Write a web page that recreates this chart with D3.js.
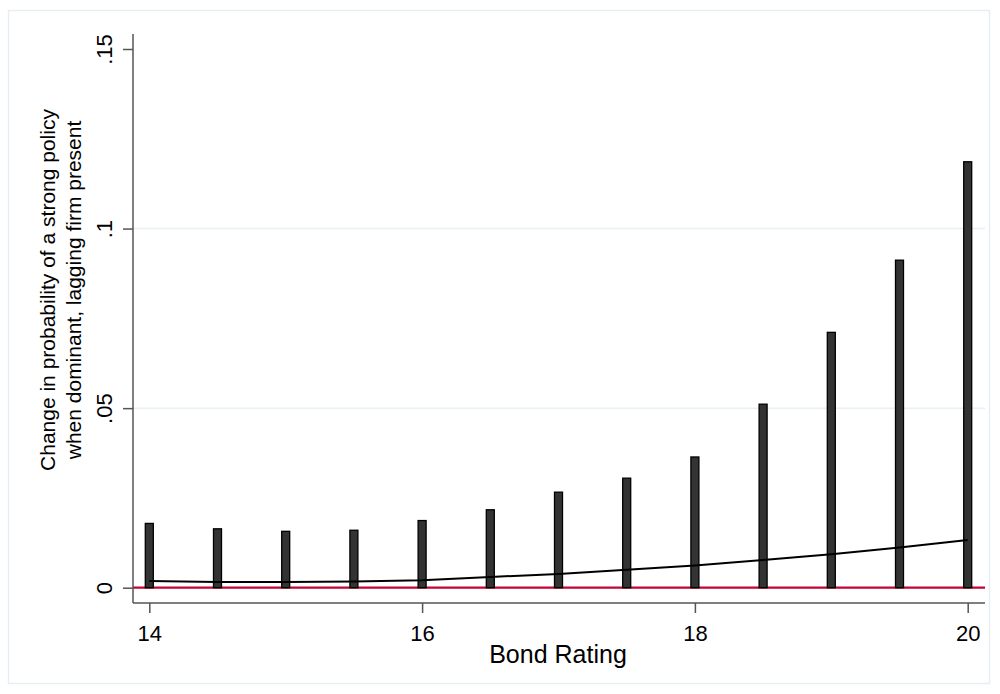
<!DOCTYPE html>
<html>
<head>
<meta charset="utf-8">
<script src="https://cdn.jsdelivr.net/npm/d3@7"></script>
<style>
  body { margin: 0; background: #fff; }
  text { font-family: "Liberation Sans", Arial, sans-serif; fill: #000; }
</style>
</head>
<body>
<script>
(() => {
    // Dados
    var rating = [14, 14.5, 15, 15.5, 16, 16.5, 17, 17.5, 18, 18.5, 19, 19.5, 20];
    var upper = [0.0179, 0.0164, 0.0157, 0.016, 0.0187, 0.0217, 0.0266, 0.0305, 0.0364, 0.0511, 0.0711, 0.0912, 0.1186];
    var effect = [0.0019, 0.0016, 0.0016, 0.0017, 0.0021, 0.003, 0.0038, 0.005, 0.0062, 0.0077, 0.0093, 0.0112, 0.0133];
    var xTicks = [14, 16, 18, 20];
    var yTicks = [0, 0.05, 0.1, 0.15];
    var yTickLabels = ["0", ".05", ".1", ".15"];
    var yTitle = ["Change in probability of a strong policy", "when dominant, lagging firm present"];
    var xTitle = "Bond Rating";

    var w = 1000,
        h = 694;

    var plot = { left: 133, right: 985, top: 34, bottom: 603 };

    var svg = d3.select("body").append("svg")
        .attr("width", w).attr("height", h);

    // moldura externa
    svg.append("rect")
        .attr("x", 8.5).attr("y", 10.5)
        .attr("width", 981).attr("height", 673)
        .attr("fill", "#fff").attr("stroke", "#e6eef1").attr("stroke-width", 1.5);

    var x = d3.scaleLinear().domain([14, 20]).range([149.3, 967.7]);
    var y = d3.scaleLinear().domain([0, 0.15]).range([587.7, 49]);

    // linhas de grade
    svg.append("g").selectAll("line").data([0.05, 0.1]).enter()
        .append("line")
        .attr("x1", plot.left).attr("x2", plot.right)
        .attr("y1", d => y(d)).attr("y2", d => y(d))
        .attr("stroke", "#e8f0f2").attr("stroke-width", 1.5);

    // linha de referencia em zero
    svg.append("line")
        .attr("x1", plot.left).attr("x2", plot.right)
        .attr("y1", y(0)).attr("y2", y(0))
        .attr("stroke", "#c10534").attr("stroke-width", 2.2);

    // barras
    svg.append("g").selectAll("rect").data(rating).enter()
        .append("rect")
        .attr("x", d => x(d) - 4)
        .attr("width", 8)
        .attr("y", (d, i) => y(upper[i]))
        .attr("height", (d, i) => y(0) - y(upper[i]))
        .attr("fill", "#333").attr("stroke", "#000").attr("stroke-width", 1.3);

    // curva do efeito
    var line = d3.line()
        .x((d, i) => x(rating[i]))
        .y(d => y(d));
    svg.append("path").datum(effect)
        .attr("d", line)
        .attr("fill", "none").attr("stroke", "#000").attr("stroke-width", 2);

    // eixos
    var axisColor = "#555";
    svg.append("line")
        .attr("x1", plot.left).attr("x2", plot.left)
        .attr("y1", plot.top).attr("y2", plot.bottom)
        .attr("stroke", axisColor).attr("stroke-width", 1.5);
    svg.append("line")
        .attr("x1", plot.left).attr("x2", plot.right)
        .attr("y1", plot.bottom).attr("y2", plot.bottom)
        .attr("stroke", axisColor).attr("stroke-width", 1.5);

    var xAxis = d3.axisBottom(x).tickValues(xTicks).tickSize(10).tickPadding(12)
        .tickFormat(d3.format("d"));
    var gx = svg.append("g").attr("transform", "translate(0," + plot.bottom + ")").call(xAxis);
    gx.select(".domain").remove();
    gx.selectAll(".tick line").attr("stroke", axisColor).attr("stroke-width", 1.5);
    gx.selectAll(".tick text").attr("font-size", 22).attr("font-family", "Liberation Sans, Arial, sans-serif").attr("fill", "#000");

    var yAxis = d3.axisLeft(y).tickValues(yTicks).tickSize(10)
        .tickFormat((d, i) => yTickLabels[i]);
    var gy = svg.append("g").attr("transform", "translate(" + plot.left + ",0)").call(yAxis);
    gy.select(".domain").remove();
    gy.selectAll(".tick line").attr("stroke", axisColor).attr("stroke-width", 1.5);
    gy.selectAll(".tick text")
        .attr("font-size", 22).attr("font-family", "Liberation Sans, Arial, sans-serif").attr("fill", "#000")
        .attr("x", null).attr("dy", null)
        .attr("text-anchor", "middle")
        .attr("transform", "translate(-21,0) rotate(-90)");

    // titulos
    svg.append("text")
        .attr("x", 558).attr("y", 663)
        .attr("text-anchor", "middle").attr("font-size", 25)
        .text(xTitle);

    var yt = svg.append("text")
        .attr("transform", "translate(0,290) rotate(-90)")
        .attr("text-anchor", "middle").attr("font-size", 21);
    yt.selectAll("tspan").data(yTitle).enter()
        .append("tspan")
        .attr("x", 0)
        .attr("y", (d, i) => i === 0 ? 55 : 81)
        .text(d => d);
})();
</script>
</body>
</html>
